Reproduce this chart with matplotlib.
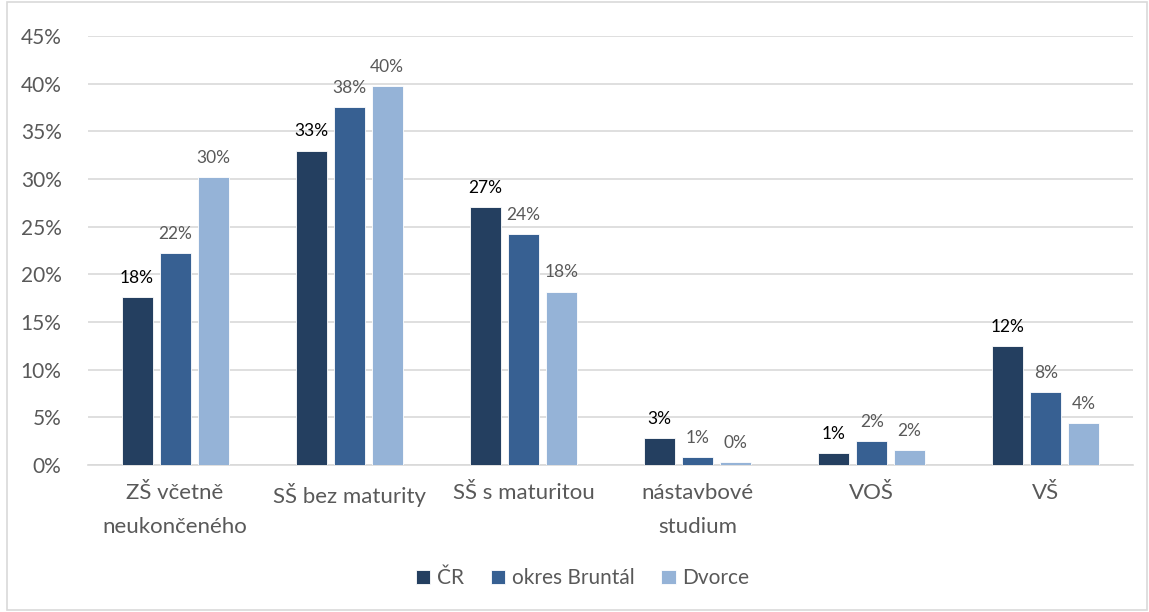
import matplotlib.pyplot as plt
import numpy as np
from matplotlib.patches import Rectangle

plt.rcParams['font.family'] = ['Lato', 'DejaVu Sans']

categories = ["ZŠ včetně\nneukončeného", "SŠ bez maturity", "SŠ s maturitou",
              "nástavbové\nstudium", "VOŠ", "VŠ"]
series = ["ČR", "okres Bruntál", "Dvorce"]
cr = [17.6, 33.0, 27.1, 2.8, 1.3, 12.5]
bruntal = [22.2, 37.6, 24.2, 0.8, 2.5, 7.7]
dvorce = [30.2, 39.8, 18.2, 0.3, 1.6, 4.4]
colors = ["#243F60", "#376092", "#95B3D7"]
label_colors = ["#000000", "#595959", "#595959"]

fig = plt.figure(figsize=(11.49, 6.12), dpi=100)
ax = fig.add_axes([0.0766, 0.240, 0.9094, 0.701])

x = np.arange(len(categories))
w = 0.178
step = 0.218
for i, (vals, name) in enumerate(zip([cr, bruntal, dvorce], series)):
    pos = x + (i - 1) * step
    ax.bar(pos, vals, width=w, color=colors[i], edgecolor="white", linewidth=0.6,
           label=name, zorder=3)
    for px, v in zip(pos, vals):
        ax.annotate(f"{v:.0f}%", (px, v), xytext=(0, 8), textcoords="offset points",
                    ha="center", va="bottom", fontsize=12.5, color=label_colors[i])

ax.set_ylim(0, 45)
ax.set_xlim(-0.5, 5.5)
ax.set_yticks(np.arange(0, 46, 5))
ax.set_yticklabels([f"{t}%" for t in range(0, 46, 5)], fontsize=15)
ax.set_xticks(x)
ax.set_xticklabels(categories, linespacing=1.85, fontsize=16)
ax.grid(axis="y", color="#D9D9D9", linewidth=1.2, zorder=0)
for s in ["top", "right", "left"]:
    ax.spines[s].set_visible(False)
ax.spines["bottom"].set_color("#D9D9D9")
ax.spines["bottom"].set_linewidth(1.2)
ax.tick_params(axis="both", length=0, colors="#595959")
ax.tick_params(axis="y", pad=19)
ax.tick_params(axis="x", pad=13)

ax.legend(loc="center", bbox_to_anchor=(0.507, 0.055), bbox_transform=fig.transFigure,
          ncol=3, frameon=False, fontsize=15, handlelength=0.7, handleheight=0.7,
          columnspacing=1.3, handletextpad=0.3, labelcolor="#595959")

fig.patches.append(Rectangle((0.006, 0.003), 0.992, 0.994, transform=fig.transFigure,
                             fill=False, edgecolor="#D9D9D9", linewidth=1.2))

fig.savefig("out.png", dpi=100, facecolor="white")
